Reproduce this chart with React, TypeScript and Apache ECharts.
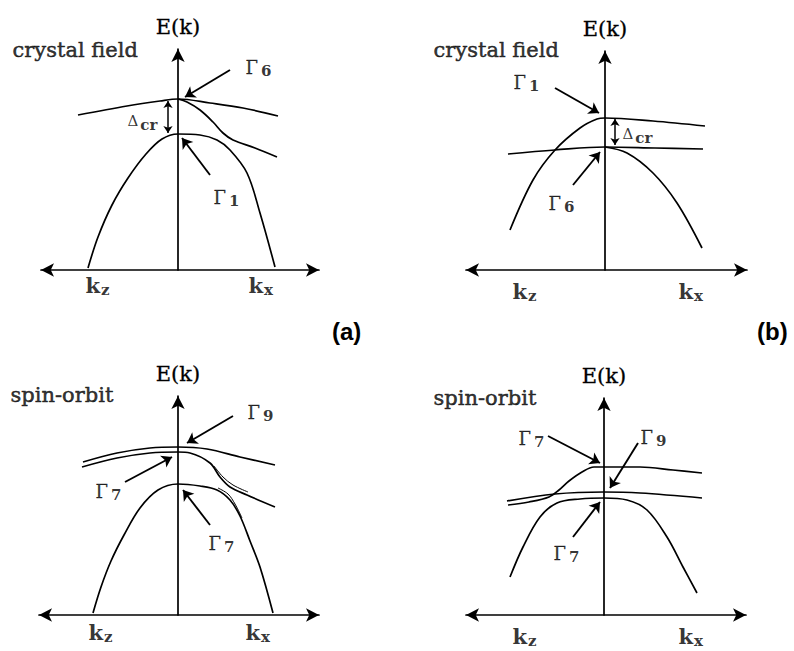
import React, { useEffect, useRef } from "react";
import * as echarts from "echarts";

type P = [number, number];

// ---------- band curves (k, E) ----------
// (a) crystal field
const tlGamma6: P[] = [[-1.0, 1.55], [-0.51, 1.64], [-0.18, 1.69], [0, 1.71], [0.32, 1.67], [0.65, 1.62], [1.0, 1.54]];
const tlGamma6Branch: P[] = [[0, 1.71], [0.09, 1.68], [0.22, 1.6], [0.35, 1.48], [0.45, 1.37], [0.55, 1.3], [0.77, 1.22], [0.99, 1.13]];
const tlGamma1: P[] = [[-0.9, 0.02], [-0.8, 0.33], [-0.66, 0.65], [-0.5, 0.92], [-0.32, 1.16], [-0.16, 1.31], [0, 1.36], [0.22, 1.35], [0.39, 1.3], [0.52, 1.2], [0.69, 0.97], [0.82, 0.57], [0.97, 0.03]];
// (b) crystal field
const trGamma1: P[] = [[-0.95, 0.4], [-0.72, 0.9], [-0.5, 1.2], [-0.25, 1.42], [-0.08, 1.51], [0, 1.52], [0.48, 1.49], [1.0, 1.44]];
const trGamma6: P[] = [[-0.97, 1.16], [-0.5, 1.2], [0, 1.23], [0.5, 1.22], [0.98, 1.21]];
const trGamma6Branch: P[] = [[0, 1.23], [0.22, 1.17], [0.48, 0.97], [0.72, 0.67], [0.97, 0.22]];
// (a) spin-orbit
const blGamma9: P[] = [[-0.95, 1.53], [-0.61, 1.62], [-0.28, 1.67], [0, 1.68], [0.29, 1.66], [0.62, 1.58], [0.97, 1.5]];
const blGamma7Upper: P[] = [[-0.96, 1.48], [-0.61, 1.57], [-0.28, 1.62], [0, 1.63], [0.12, 1.62], [0.32, 1.52], [0.42, 1.38], [0.52, 1.28], [0.69, 1.2], [0.97, 1.08]];
const blGamma7UpperEcho: P[] = [[0.36, 1.49], [0.45, 1.38], [0.55, 1.3], [0.7, 1.23]];
const blGamma7Lower: P[] = [[-0.85, 0.02], [-0.77, 0.28], [-0.67, 0.54], [-0.54, 0.8], [-0.38, 1.07], [-0.2, 1.25], [0, 1.31], [0.22, 1.29], [0.39, 1.25], [0.52, 1.15], [0.62, 0.99], [0.72, 0.74], [0.82, 0.48], [0.95, 0.02]];
const blGamma7LowerEcho: P[] = [[0.4, 1.27], [0.5, 1.21], [0.57, 1.11], [0.64, 0.97]];
// (b) spin-orbit
const brGamma7Upper: P[] = [[-0.96, 1.1], [-0.75, 1.13], [-0.55, 1.18], [-0.45, 1.25], [-0.35, 1.34], [-0.22, 1.43], [-0.1, 1.48], [0, 1.48], [0.36, 1.48], [0.69, 1.45], [0.98, 1.42]];
const brGamma9: P[] = [[-0.97, 1.14], [-0.49, 1.21], [0, 1.23], [0.36, 1.22], [0.98, 1.17]];
const brGamma7Lower: P[] = [[-0.94, 0.38], [-0.81, 0.68], [-0.64, 0.98], [-0.47, 1.12], [-0.24, 1.16], [0, 1.17], [0.23, 1.15], [0.43, 1.05], [0.63, 0.78], [0.79, 0.48], [0.93, 0.22]];

// ---------- pointer arrows [from, to] ----------
const tlPointers: P[][] = [[[0.52, 2.0], [0.07, 1.73]], [[0.32, 0.95], [0.04, 1.32]]];
const trPointers: P[][] = [[[-0.5, 1.82], [-0.06, 1.57]], [[-0.32, 0.85], [-0.05, 1.18]]];
const blPointers: P[][] = [[[0.55, 1.99], [0.09, 1.72]], [[-0.53, 1.33], [-0.06, 1.58]], [[0.32, 0.9], [0.05, 1.25]]];
const brPointers: P[][] = [[[-0.56, 1.79], [-0.04, 1.52]], [[0.34, 1.72], [0.06, 1.27]], [[-0.31, 0.78], [-0.04, 1.13]]];

// ---------- crystal-field splitting Δcr ----------
const tlGap: P[][] = [[[-0.1, 1.69], [-0.1, 1.37]]];
const trGap: P[][] = [[[0.1, 1.51], [0.1, 1.25]]];

// ---------- labels ----------
const tlLabels: [number, number, string][] = [
  [0.67, 2.03, "{gam|Γ}{sub|6}"],
  [0.35, 0.73, "{gam|Γ}{sub|1}"],
  [-0.51, 1.49, "{del|Δ}{cr|cr}"],
];
const trLabels: [number, number, string][] = [
  [-0.92, 1.88, "{gam|Γ}{sub|1}"],
  [-0.57, 0.67, "{gam|Γ}{sub|6}"],
  [0.17, 1.36, "{del|Δ}{cr|cr}"],
];
const blLabels: [number, number, string][] = [
  [0.69, 2.03, "{gam|Γ}{sub|9}"],
  [-0.83, 1.24, "{gam|Γ}{sub|7}"],
  [0.3, 0.72, "{gam|Γ}{sub|7}"],
];
const brLabels: [number, number, string][] = [
  [-0.86, 1.77, "{gam|Γ}{sub|7}"],
  [0.36, 1.78, "{gam|Γ}{sub|9}"],
  [-0.51, 0.62, "{gam|Γ}{sub|7}"],
];
const panelTitles = ["crystal field", "crystal field", "spin-orbit", "spin-orbit"];
const titlePos: P[] = [[-1.66, 2.2], [-1.72, 2.2], [-1.68, 2.2], [-1.71, 2.17]];
const kzPos: P[] = [[-0.93, -0.15], [-0.93, -0.21], [-0.9, -0.17], [-0.92, -0.21]];
const kxPos: P[] = [[0.7, -0.15], [0.73, -0.21], [0.67, -0.17], [0.74, -0.21]];
const panelTags = ["(a)", "(b)"];

// ---------- layout ----------
const INK = "#000";
const SERIF = '"DejaVu Serif", serif';
const UNIT = 100;
const origins: P[] = [[178, 270], [605, 270], [178, 615], [604, 615]];
const xExtents: P[] = [[-1.37, 1.41], [-1.39, 1.42], [-1.39, 1.41], [-1.38, 1.42]];
const yTops = [2.21, 2.19, 2.19, 2.17];

const rich = {
  gam: { fontFamily: SERIF, fontSize: 18, color: INK, textBorderColor: INK, textBorderWidth: 0.3 },
  sub: { fontFamily: SERIF, fontSize: 15, fontWeight: "bold", color: INK, padding: [8, 0, 0, 3] },
  del: { fontFamily: SERIF, fontSize: 15, color: INK },
  cr: { fontFamily: SERIF, fontSize: 15, fontWeight: "bold", color: INK, padding: [8, 0, 0, 2] },
  kk: { fontFamily: SERIF, fontSize: 21, fontWeight: "bold", color: INK },
  ks: { fontFamily: SERIF, fontSize: 15, fontWeight: "bold", color: INK, padding: [9, 0, 0, 1] },
  txt: { fontFamily: SERIF, fontSize: 21, color: INK, textBorderColor: INK, textBorderWidth: 0.5 },
};

function buildOption() {
  const bands = [
    [tlGamma6, tlGamma6Branch, tlGamma1],
    [trGamma1, trGamma6, trGamma6Branch],
    [blGamma9, blGamma7Upper, blGamma7Lower],
    [brGamma7Upper, brGamma9, brGamma7Lower],
  ];
  const echoes = [[], [], [blGamma7UpperEcho, blGamma7LowerEcho], []] as P[][][];
  const pointers = [tlPointers, trPointers, blPointers, brPointers];
  const gaps = [tlGap, trGap, [], []] as P[][][];
  const labels = [tlLabels, trLabels, blLabels, brLabels];

  const grid: any[] = [];
  const xAxis: any[] = [];
  const yAxis: any[] = [];
  const series: any[] = [];

  for (let i = 0; i < 4; i++) {
    const [ox, oy] = origins[i];
    const [x0, x1] = xExtents[i];
    const yt = yTops[i];
    grid.push({
      left: ox + x0 * UNIT,
      top: oy - yt * UNIT,
      width: (x1 - x0) * UNIT,
      height: yt * UNIT,
      containLabel: false,
    });
    xAxis.push({
      gridIndex: i,
      type: "value",
      min: x0,
      max: x1,
      axisLine: { show: true, onZero: true, symbol: ["arrow", "arrow"], symbolSize: [10, 13], lineStyle: { color: INK, width: 1.7 } },
      axisTick: { show: false },
      axisLabel: { show: false },
      splitLine: { show: false },
    });
    yAxis.push({
      gridIndex: i,
      type: "value",
      min: 0,
      max: yt,
      name: "E(k)",
      nameLocation: "end",
      nameGap: 12,
      nameTextStyle: { fontFamily: SERIF, fontSize: 21, color: INK, textBorderColor: INK, textBorderWidth: 0.3 },
      axisLine: { show: true, onZero: true, symbol: ["none", "arrow"], symbolSize: [10, 13], lineStyle: { color: INK, width: 1.7 } },
      axisTick: { show: false },
      axisLabel: { show: false },
      splitLine: { show: false },
    });

    bands[i].forEach((d) =>
      series.push({
        type: "line",
        xAxisIndex: i,
        yAxisIndex: i,
        data: d,
        smooth: 0.35,
        showSymbol: false,
        symbol: "none",
        silent: true,
        lineStyle: { color: INK, width: 1.7 },
      })
    );
    echoes[i].forEach((d) =>
      series.push({
        type: "line",
        xAxisIndex: i,
        yAxisIndex: i,
        data: d,
        smooth: 0.35,
        showSymbol: false,
        symbol: "none",
        silent: true,
        lineStyle: { color: INK, width: 1 },
      })
    );
    series.push({
      type: "lines",
      coordinateSystem: "cartesian2d",
      xAxisIndex: i,
      yAxisIndex: i,
      symbol: ["none", "arrow"],
      symbolSize: 10,
      silent: true,
      lineStyle: { color: INK, width: 1.9, opacity: 1 },
      data: pointers[i].map((c) => ({ coords: c })),
    });
    if (gaps[i].length) {
      series.push({
        type: "lines",
        coordinateSystem: "cartesian2d",
        xAxisIndex: i,
        yAxisIndex: i,
        symbol: ["arrow", "arrow"],
        symbolSize: 7,
        silent: true,
        lineStyle: { color: INK, width: 1.5, opacity: 1 },
        data: gaps[i].map((c) => ({ coords: c })),
      });
    }
    const texts: any[] = labels[i].map(([x, y, t]) => ({ value: [x, y], label: { formatter: t } }));
    texts.push({ value: titlePos[i], label: { formatter: "{txt|" + panelTitles[i] + "}" } });
    texts.push({ value: kzPos[i], label: { formatter: "{kk|k}{ks|z}" } });
    texts.push({ value: kxPos[i], label: { formatter: "{kk|k}{ks|x}" } });
    series.push({
      type: "scatter",
      xAxisIndex: i,
      yAxisIndex: i,
      symbolSize: 1,
      clip: false,
      silent: true,
      itemStyle: { color: "rgba(0,0,0,0)" },
      label: { show: true, position: "right", distance: 0, color: INK, rich },
      data: texts,
    });
  }

  return {
    animation: false,
    backgroundColor: "#fff",
    grid,
    xAxis,
    yAxis,
    series,
    graphic: [
      { type: "text", left: 332, top: 319, style: { text: panelTags[0], font: 'bold 24px "Liberation Sans", Arial, sans-serif', fill: "#000" } },
      { type: "text", left: 757, top: 319, style: { text: panelTags[1], font: 'bold 24px "Liberation Sans", Arial, sans-serif', fill: "#000" } },
    ],
  };
}

export default function App() {
  const ref = useRef<HTMLDivElement>(null);
  useEffect(() => {
    if (!ref.current) return;
    const chart = echarts.init(ref.current, undefined, { renderer: "svg" });
    chart.setOption(buildOption() as any);
    return () => chart.dispose();
  }, []);
  return (
    <div
      ref={ref}
      style={{ position: "fixed", left: 0, top: 0, width: 794, height: 651, background: "#fff" }}
    />
  );
}
